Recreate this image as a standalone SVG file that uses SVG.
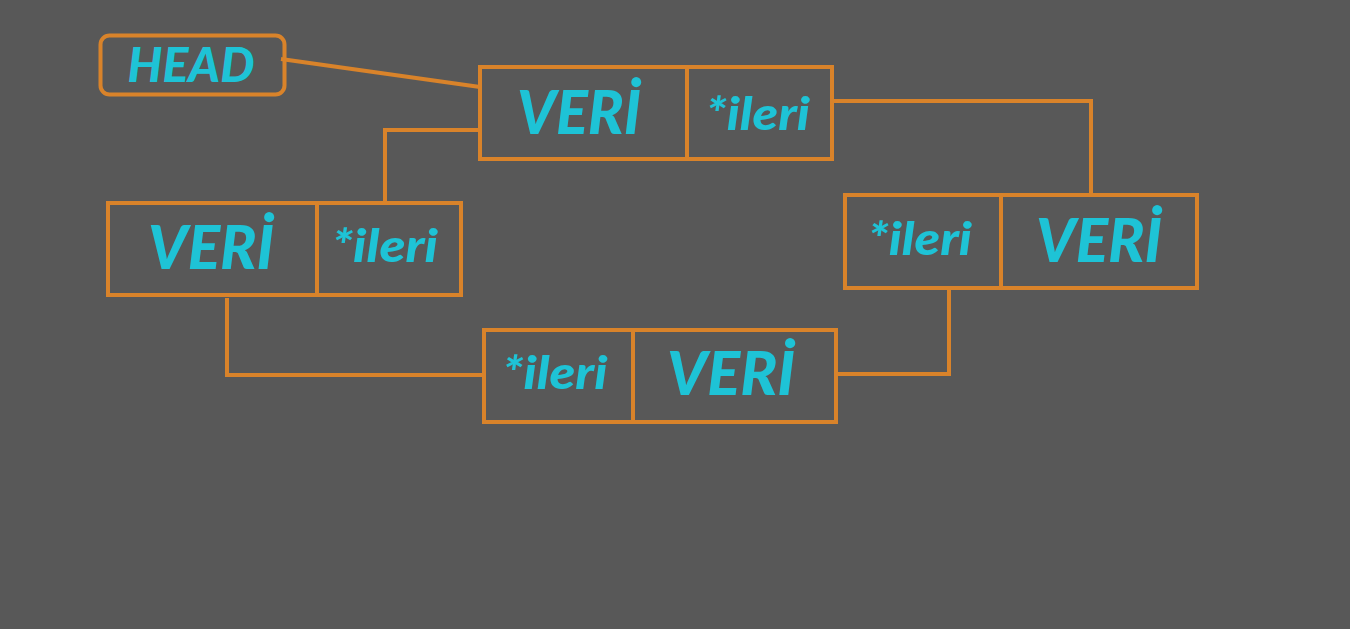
<svg xmlns="http://www.w3.org/2000/svg" width="1350" height="629" viewBox="0 0 1350 629">
<style>
.box{fill:none;stroke:#d9832a;stroke-width:4}
.ln{fill:none;stroke:#d9832a;stroke-width:4;stroke-linejoin:miter}
.t{font-family:Lato,"Open Sans",sans-serif;font-weight:900;font-style:italic;fill:#1ec3d6;text-anchor:middle}
.v{font-size:60px}
.p{font-size:45px}
</style>
<rect width="1350" height="629" fill="#585858"/>
<g id="connectors">
<path class="ln" d="M281 59 L480 87"/>
<path class="ln" d="M832 101 H1091 V195"/>
<path class="ln" d="M480 130 H385 V203"/>
<path class="ln" d="M949 290 V374 H837"/>
<path class="ln" d="M227 298 V375 H484"/>
</g>
<g id="head">
<rect class="box" x="100.5" y="35.5" width="184" height="59" rx="9"/>
<text class="t" x="191" y="82" font-size="47" textLength="127" lengthAdjust="spacingAndGlyphs">HEAD</text>
</g>
<g id="node1">
<rect class="box" x="480" y="67" width="352" height="92"/>
<line class="ln" x1="687" y1="67" x2="687" y2="159"/>
<text class="t v" x="579" y="134" textLength="124" lengthAdjust="spacingAndGlyphs">VERİ</text>
<text class="t p" x="758" y="130" textLength="104" lengthAdjust="spacingAndGlyphs">*ileri</text>
</g>
<g id="node2">
<rect class="box" x="108" y="203" width="353" height="92"/>
<line class="ln" x1="317" y1="203" x2="317" y2="295"/>
<text class="t v" x="211" y="269" textLength="126" lengthAdjust="spacingAndGlyphs">VERİ</text>
<text class="t p" x="385" y="262" textLength="106" lengthAdjust="spacingAndGlyphs">*ileri</text>
</g>
<g id="node3">
<rect class="box" x="484" y="330" width="352" height="92"/>
<line class="ln" x1="633" y1="330" x2="633" y2="422"/>
<text class="t p" x="555" y="389" textLength="105" lengthAdjust="spacingAndGlyphs">*ileri</text>
<text class="t v" x="731" y="395" textLength="128" lengthAdjust="spacingAndGlyphs">VERİ</text>
</g>
<g id="node4">
<rect class="box" x="845" y="195" width="352" height="93"/>
<line class="ln" x1="1001" y1="195" x2="1001" y2="288"/>
<text class="t p" x="920" y="255" textLength="104" lengthAdjust="spacingAndGlyphs">*ileri</text>
<text class="t v" x="1099" y="262" textLength="126" lengthAdjust="spacingAndGlyphs">VERİ</text>
</g>
</svg>
